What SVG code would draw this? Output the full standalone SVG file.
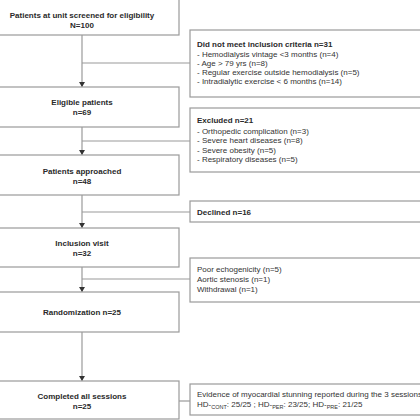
<svg xmlns="http://www.w3.org/2000/svg" width="420" height="420" viewBox="0 0 420 420">
<defs>
<style>
.box{fill:#fff;stroke:#9a9a9a;stroke-width:1.2}
.ln{fill:none;stroke:#9a9a9a;stroke-width:1.2}
text{font-family:"Liberation Sans",Arial,sans-serif;font-size:8px;fill:#333}
.b{font-weight:bold;fill:#2a2a2a}
.c{text-anchor:middle}
.sub{font-size:5.5px}
</style>
<marker id="ah" markerWidth="6" markerHeight="6" refX="5" refY="3" orient="auto" markerUnits="userSpaceOnUse">
<path d="M0,0 L5,3 L0,6 Z" fill="#333"/>
</marker>
</defs>
<rect width="420" height="420" fill="#fff"/>
<g id="connectors">
<line class="ln" x1="82" y1="35" x2="82" y2="87" marker-end="url(#ah)"/>
<line class="ln" x1="82" y1="63" x2="190" y2="63"/>
<line class="ln" x1="82" y1="127" x2="82" y2="155" marker-end="url(#ah)"/>
<line class="ln" x1="82" y1="141" x2="190" y2="141"/>
<line class="ln" x1="82" y1="195" x2="82" y2="228" marker-end="url(#ah)"/>
<line class="ln" x1="82" y1="212" x2="190" y2="212"/>
<line class="ln" x1="82" y1="267" x2="82" y2="292" marker-end="url(#ah)"/>
<line class="ln" x1="82" y1="279" x2="190" y2="279"/>
<line class="ln" x1="82" y1="332" x2="82" y2="381" marker-end="url(#ah)"/>
<line class="ln" x1="179" y1="401" x2="190" y2="401"/>
</g>
<g id="n1"><rect class="box" x="-2" y="-2" width="181" height="37"/>
<text class="b c" x="82" y="18">Patients at unit screened for eligibility</text>
<text class="b c" x="82" y="27.5">N=100</text></g>
<g id="n2"><rect class="box" x="-2" y="87" width="181" height="40"/>
<text class="b c" x="82" y="104.5">Eligible patients</text>
<text class="b c" x="82" y="114.5">n=69</text></g>
<g id="n3"><rect class="box" x="-2" y="155" width="181" height="40"/>
<text class="b c" x="82" y="173.5">Patients approached</text>
<text class="b c" x="82" y="184">n=48</text></g>
<g id="n4"><rect class="box" x="-2" y="228" width="181" height="39"/>
<text class="b c" x="82" y="246">Inclusion visit</text>
<text class="b c" x="82" y="256">n=32</text></g>
<g id="n5"><rect class="box" x="-2" y="292" width="181" height="40"/>
<text class="b c" x="82" y="315">Randomization n=25</text></g>
<g id="n6"><rect class="box" x="-2" y="381" width="181" height="38"/>
<text class="b c" x="82" y="398.5">Completed all sessions</text>
<text class="b c" x="82" y="408.5">n=25</text></g>
<g id="r1"><rect class="box" x="190" y="30" width="240" height="67"/>
<text class="b" x="197" y="47">Did not meet inclusion criteria n=31</text>
<text x="197" y="56.5">- Hemodialysis vintage &lt;3 months (n=4)</text>
<text x="197" y="65.8">- Age &gt; 79 yrs (n=8)</text>
<text x="197" y="75">- Regular exercise outside hemodialysis (n=5)</text>
<text x="197" y="84.3">- Intradialytic exercise &lt; 6 months (n=14)</text></g>
<g id="r2"><rect class="box" x="190" y="108" width="240" height="64"/>
<text class="b" x="197" y="123">Excluded n=21</text>
<text x="197" y="133.5">- Orthopedic complication (n=3)</text>
<text x="197" y="143">- Severe heart diseases (n=8)</text>
<text x="197" y="152.5">- Severe obesity (n=5)</text>
<text x="197" y="162">- Respiratory diseases (n=5)</text></g>
<g id="r3"><rect class="box" x="190" y="201" width="240" height="21"/>
<text class="b" x="197" y="214.5">Declined n=16</text></g>
<g id="r4"><rect class="box" x="190" y="258" width="240" height="44"/>
<text x="197" y="272">Poor echogenicity (n=5)</text>
<text x="197" y="282">Aortic stenosis (n=1)</text>
<text x="197" y="292">Withdrawal (n=1)</text></g>
<g id="r5"><rect class="box" x="190" y="384" width="240" height="31"/>
<text x="197" y="397">Evidence of myocardial stunning reported during the 3 sessions</text>
<text x="197" y="407">HD-<tspan class="sub" dy="1.8">CONT</tspan><tspan dy="-1.8">: 25/25 ; HD-</tspan><tspan class="sub" dy="1.8">PER</tspan><tspan dy="-1.8">: 23/25; HD-</tspan><tspan class="sub" dy="1.8">PRE</tspan><tspan dy="-1.8">: 21/25</tspan></text></g>
</svg>
